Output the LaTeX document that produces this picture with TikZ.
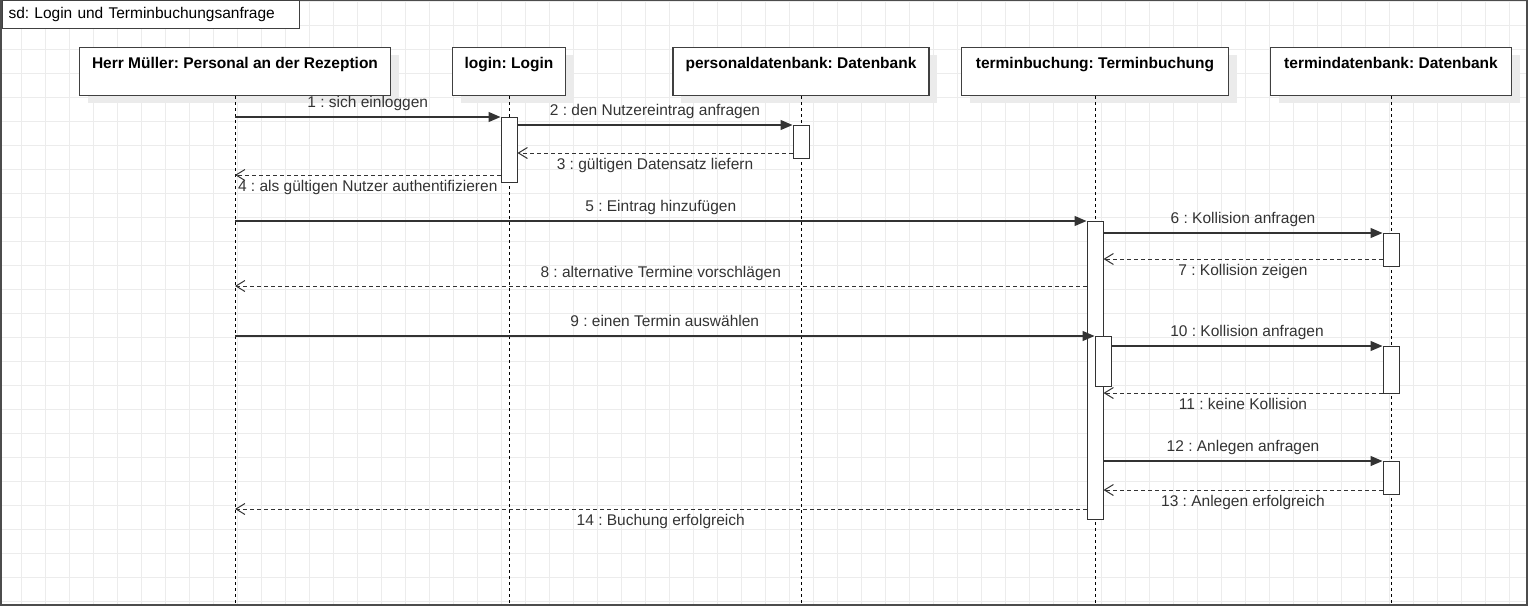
\documentclass[tikz,border=0pt]{standalone}
\usepackage{fontspec}
\setmainfont{Liberation Sans}
\usetikzlibrary{arrows.meta,shadows,positioning}
\definecolor{umlline}{HTML}{333333}
\definecolor{gridgray}{HTML}{ECECEC}
\frenchspacing

\begin{document}
\begin{tikzpicture}[x=1pt,y=-1pt,font=\fontsize{15.5pt}{18pt}\selectfont,
  grid line/.style={draw=gridgray,line width=0.8pt},
  frame/.style={draw=black!70,line width=1.5pt},
  title tab/.style={rectangle,draw=black!75,fill=white,line width=1.2pt,anchor=north west,
    minimum height=28pt,text width=285pt,inner xsep=6pt,inner ysep=0pt,align=left},
  head node/.style={rectangle,draw=black!75,fill=white,line width=1.2pt,
    general shadow={fill=black!8,shadow xshift=8pt,shadow yshift=-7pt},
    anchor=north,inner sep=0pt,text height=20.5pt,text depth=27.5pt,
    font=\fontsize{15.5pt}{18pt}\selectfont\bfseries},
  lifeline/.style={draw=black,line width=1pt,dash pattern=on 3pt off 3pt},
  act/.style={rectangle,draw=umlline,fill=white,line width=1pt,minimum width=16pt,
    inner sep=0pt,anchor=north},
  call/.style={draw=umlline,line width=1.2pt,-{Triangle[length=12pt,width=10pt]}},
  reply/.style={draw=umlline,line width=1pt,dash pattern=on 4pt off 3pt,
    -{Straight Barb[length=9pt,width=11pt,line width=1pt]}},
  msg/.style={text=umlline,inner sep=5pt,text height=11pt,text depth=3.5pt}]

  \useasboundingbox (0,0) rectangle (1528,606);
  \foreach \gx in {0,...,62} \draw[grid line] ({21.7+24*\gx},0) -- ({21.7+24*\gx},606);
  \foreach \gy in {0,...,25} \draw[grid line] (0,{1.7+24*\gy}) -- (1528,{1.7+24*\gy});

  \draw[frame] (1,0.5) rectangle (1527,605);
  \node[title tab] (sd) at (2,0) {sd: Login und Terminbuchungsanfrage};

  \coordinate (bottom) at (0,604);
  \foreach \n/\y in {1/117,2/125,3/153,4/175,5/221,6/233,7/259,8/286,9/336,10/346,11/393,12/461,13/490,14/509}
    \coordinate (m\n) at (0,\y);

  \node[head node,minimum width=311pt] (mueller) at (235,47) {Herr Müller: Personal an der Rezeption};
  \node[head node,minimum width=113pt] (login) at (509,47) {login: Login};
  \node[head node,minimum width=256pt] (pers) at (801,47) {personaldatenbank: Datenbank};
  \node[head node,minimum width=267pt] (buch) at (1095,47) {terminbuchung: Terminbuchung};
  \node[head node,minimum width=241pt] (termdb) at (1391,47) {termindatenbank: Datenbank};

  \foreach \l in {mueller,login,pers,buch,termdb}
    \draw[lifeline] (\l.south) -- (\l.south |- bottom);

  \node[act,minimum height=65pt] (actlogin) at (login.south |- m1) {};
  \node[act,minimum height=33pt] (actpers) at (pers.south |- m2) {};
  \node[act,minimum height=298pt] (actbuch) at (buch.south |- m5) {};
  \node[act,minimum height=33pt] (actdbA) at (termdb.south |- m6) {};
  \node[act,minimum height=50pt] (actbuchB) at ([xshift=8pt]buch.south |- m9) {};
  \node[act,minimum height=47pt] (actdbB) at (termdb.south |- m10) {};
  \node[act,minimum height=33pt] (actdbC) at (termdb.south |- m12) {};

  \draw[call] (mueller.south |- m1) -- node[above,msg] {1 : sich einloggen} (actlogin.west |- m1);
  \draw[call] (actlogin.east |- m2) -- node[above,msg] {2 : den Nutzereintrag anfragen} (actpers.west |- m2);
  \draw[reply] (actpers.west |- m3) -- node[below,msg] {3 : gültigen Datensatz liefern} (actlogin.east |- m3);
  \draw[reply] (actlogin.west |- m4) -- node[below,msg] {4 : als gültigen Nutzer authentifizieren} (mueller.south |- m4);
  \draw[call] (mueller.south |- m5) -- node[above,msg] {5 : Eintrag hinzufügen} (actbuch.west |- m5);
  \draw[call] (actbuch.east |- m6) -- node[above,msg] {6 : Kollision anfragen} (actdbA.west |- m6);
  \draw[reply] (actdbA.west |- m7) -- node[below,msg] {7 : Kollision zeigen} (actbuch.east |- m7);
  \draw[reply] (actbuch.west |- m8) -- node[above,msg] {8 : alternative Termine vorschlägen} (mueller.south |- m8);
  \draw[call] (mueller.south |- m9) -- node[above,msg] {9 : einen Termin auswählen} (actbuchB.west |- m9);
  \draw[call] (actbuchB.east |- m10) -- node[above,msg] {10 : Kollision anfragen} (actdbB.west |- m10);
  \draw[reply] (actdbB.west |- m11) -- node[below,msg] {11 : keine Kollision} (actbuch.east |- m11);
  \draw[call] (actbuch.east |- m12) -- node[above,msg] {12 : Anlegen anfragen} (actdbC.west |- m12);
  \draw[reply] (actdbC.west |- m13) -- node[below,msg] {13 : Anlegen erfolgreich} (actbuch.east |- m13);
  \draw[reply] (actbuch.west |- m14) -- node[below,msg] {14 : Buchung erfolgreich} (mueller.south |- m14);

\end{tikzpicture}
\end{document}
